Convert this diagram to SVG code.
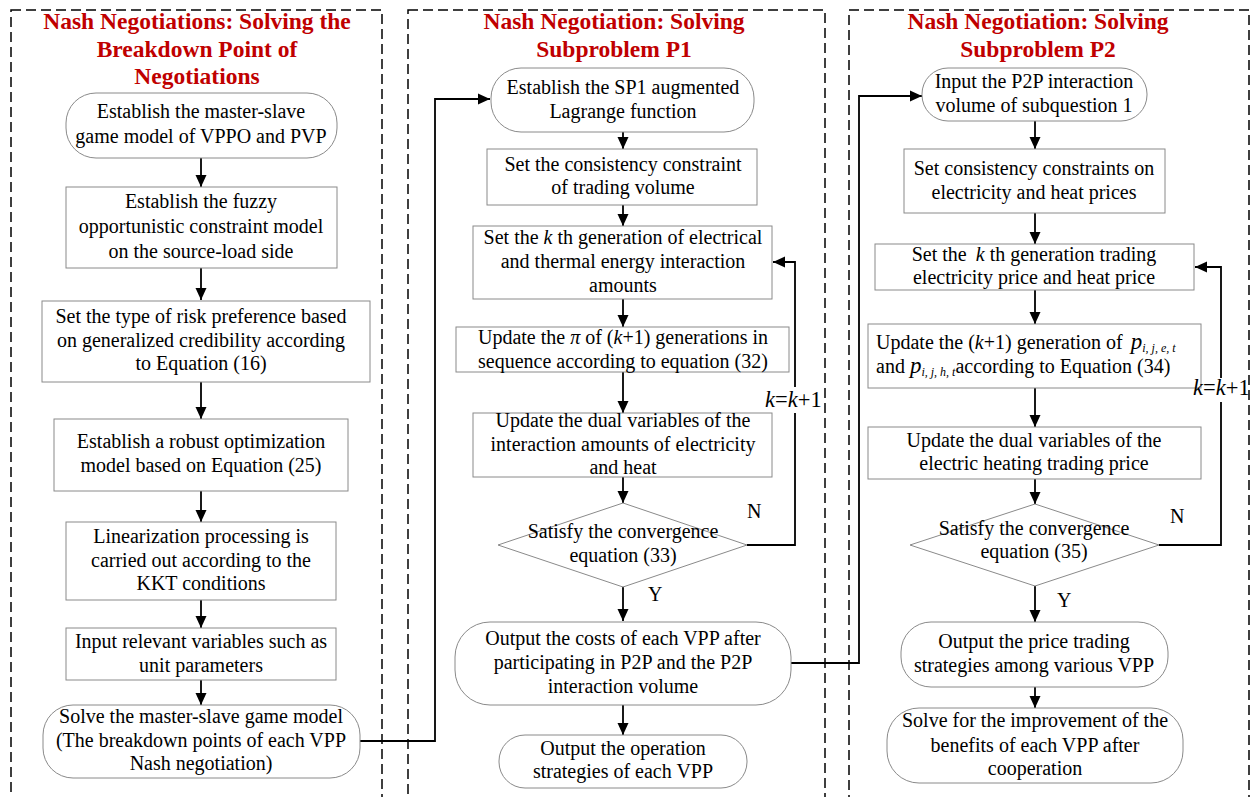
<svg xmlns="http://www.w3.org/2000/svg" width="1253" height="797" viewBox="0 0 1253 797">
<style>
.bg{fill:#fff}
.panel{fill:none;stroke:#000;stroke-width:1.5;stroke-dasharray:10 5}
.title{font-family:"Liberation Serif","Times New Roman",serif;font-weight:bold;font-size:23.5px;fill:#C00000;text-anchor:middle}
.box{fill:#fff;stroke:#8a8a8a;stroke-width:1}
.t{font-family:"Liberation Serif","Times New Roman",serif;font-size:20px;fill:#000;text-anchor:middle}
.ts{font-family:"Liberation Serif","Times New Roman",serif;font-size:20px;fill:#000}
.lbl{font-family:"Liberation Serif","Times New Roman",serif;font-size:20px;fill:#000}
.kk{font-family:"Liberation Serif","Times New Roman",serif;font-size:22.5px;fill:#000}
.c{fill:none;stroke:#000;stroke-width:1.8}
.i{font-style:italic}
</style>
<defs>
<marker id="ah" markerUnits="userSpaceOnUse" markerWidth="12" markerHeight="12" viewBox="0 0 12 12" refX="12" refY="6" orient="auto">
<path d="M0,0.5 L12,6 L0,11.5 Z" fill="#000"/>
</marker>
</defs>
<rect class="bg" x="0" y="0" width="1253" height="797"/>

<g id="panels">
<rect class="panel" x="11" y="10" width="371" height="800"/>
<rect class="panel" x="408" y="10" width="417" height="800"/>
<rect class="panel" x="849" y="10" width="400" height="800"/>
<text class="title" x="197" y="29">Nash Negotiations: Solving the</text>
<text class="title" x="197" y="57">Breakdown Point of</text>
<text class="title" x="197" y="84">Negotiations</text>
<text class="title" x="614" y="29">Nash Negotiation: Solving</text>
<text class="title" x="614" y="57">Subproblem P1</text>
<text class="title" x="1038" y="29">Nash Negotiation: Solving</text>
<text class="title" x="1038" y="57">Subproblem P2</text>
</g>

<g id="connectors">
<path class="c" d="M201,158 V187" marker-end="url(#ah)"/>
<path class="c" d="M201,268 V300" marker-end="url(#ah)"/>
<path class="c" d="M201,382 V419" marker-end="url(#ah)"/>
<path class="c" d="M201,491 V522" marker-end="url(#ah)"/>
<path class="c" d="M201,600 V628" marker-end="url(#ah)"/>
<path class="c" d="M201,680 V705" marker-end="url(#ah)"/>
<path class="c" d="M360,741 H435 V99 H490" marker-end="url(#ah)"/>
<path class="c" d="M623,132 V149" marker-end="url(#ah)"/>
<path class="c" d="M623,205 V226" marker-end="url(#ah)"/>
<path class="c" d="M623,299 V327" marker-end="url(#ah)"/>
<path class="c" d="M623,372 V413" marker-end="url(#ah)"/>
<path class="c" d="M623,477 V503" marker-end="url(#ah)"/>
<path class="c" d="M623,586 V621" marker-end="url(#ah)"/>
<path class="c" d="M623,705 V735" marker-end="url(#ah)"/>
<path class="c" d="M747,545 H795 V413"/>
<path class="c" d="M795,387 V262 H773" marker-end="url(#ah)"/>
<path class="c" d="M791,663 H859 V96 H922" marker-end="url(#ah)"/>
<path class="c" d="M1035,121 V149" marker-end="url(#ah)"/>
<path class="c" d="M1035,213 V244" marker-end="url(#ah)"/>
<path class="c" d="M1035,290 V324" marker-end="url(#ah)"/>
<path class="c" d="M1035,388 V427" marker-end="url(#ah)"/>
<path class="c" d="M1035,479 V504" marker-end="url(#ah)"/>
<path class="c" d="M1035,586 V622" marker-end="url(#ah)"/>
<path class="c" d="M1035,687 V708" marker-end="url(#ah)"/>
<path class="c" d="M1159,545 H1221 V402"/>
<path class="c" d="M1221,378 V267 H1195" marker-end="url(#ah)"/>
</g>

<g id="n1-1">
<rect class="box" x="66" y="93" width="271" height="65" rx="30" ry="30"/>
<text class="t" x="201" y="118">Establish the master-slave</text>
<text class="t" x="201" y="143">game model of VPPO and PVP</text>
</g>
<g id="n1-2">
<rect class="box" x="66" y="187" width="271" height="81"/>
<text class="t" x="201" y="208">Establish the fuzzy</text>
<text class="t" x="201" y="233">opportunistic constraint model</text>
<text class="t" x="201" y="258">on the source-load side</text>
</g>
<g id="n1-3">
<rect class="box" x="42" y="301" width="328" height="81"/>
<text class="t" x="201" y="323">Set the type of risk preference based</text>
<text class="t" x="201" y="347">on generalized credibility according</text>
<text class="t" x="201" y="370">to Equation (16)</text>
</g>
<g id="n1-4">
<rect class="box" x="54" y="419" width="294" height="72"/>
<text class="t" x="201" y="448">Establish a robust optimization</text>
<text class="t" x="201" y="472">model based on Equation (25)</text>
</g>
<g id="n1-5">
<rect class="box" x="66" y="522" width="270" height="78"/>
<text class="t" x="201" y="543">Linearization processing is</text>
<text class="t" x="201" y="567">carried out according to the</text>
<text class="t" x="201" y="590">KKT conditions</text>
</g>
<g id="n1-6">
<rect class="box" x="66" y="628" width="270" height="52"/>
<text class="t" x="201" y="648">Input relevant variables such as</text>
<text class="t" x="201" y="672">unit parameters</text>
</g>
<g id="n1-7">
<rect class="box" x="43" y="705" width="317" height="73" rx="30" ry="30"/>
<text class="t" x="201" y="723">Solve the master-slave game model</text>
<text class="t" x="201" y="747">(The breakdown points of each VPP</text>
<text class="t" x="201" y="770">Nash negotiation)</text>
</g>

<g id="n2-1">
<rect class="box" x="491" y="68" width="263" height="64" rx="30" ry="30"/>
<text class="t" x="623" y="94">Establish the SP1 augmented</text>
<text class="t" x="623" y="118">Lagrange function</text>
</g>
<g id="n2-2">
<rect class="box" x="487" y="149" width="270" height="56"/>
<text class="t" x="623" y="171">Set the consistency constraint</text>
<text class="t" x="623" y="194">of trading volume</text>
</g>
<g id="n2-3">
<rect class="box" x="473" y="226" width="299" height="73"/>
<text class="t" x="623" y="244">Set the <tspan class="i">k</tspan> th generation of electrical</text>
<text class="t" x="623" y="268">and thermal energy interaction</text>
<text class="t" x="623" y="292">amounts</text>
</g>
<g id="n2-4">
<rect class="box" x="456" y="327" width="333" height="45"/>
<text class="t" x="623" y="344">Update the <tspan class="i">π</tspan> of (<tspan class="i">k</tspan>+1) generations in</text>
<text class="t" x="623" y="368">sequence according to equation (32)</text>
</g>
<g id="n2-5">
<rect class="box" x="473" y="413" width="299" height="64"/>
<text class="t" x="623" y="427">Update the dual variables of the</text>
<text class="t" x="623" y="451">interaction amounts of electricity</text>
<text class="t" x="623" y="474">and heat</text>
</g>
<g id="n2-6">
<polygon class="box" points="498,545 623,503 747,545 623,587"/>
<text class="t" x="623" y="538">Satisfy the convergence</text>
<text class="t" x="623" y="562">equation (33)</text>
</g>
<g id="n2-7">
<rect class="box" x="455" y="622" width="336" height="83" rx="35" ry="35"/>
<text class="t" x="623" y="645">Output the costs of each VPP after</text>
<text class="t" x="623" y="669">participating in P2P and the P2P</text>
<text class="t" x="623" y="693">interaction volume</text>
</g>
<g id="n2-8">
<rect class="box" x="499" y="735" width="248" height="53" rx="26" ry="26"/>
<text class="t" x="623" y="755">Output the operation</text>
<text class="t" x="623" y="778">strategies of each VPP</text>
</g>

<g id="n3-1">
<rect class="box" x="922" y="68" width="225" height="53" rx="26" ry="26"/>
<text class="t" x="1034" y="88">Input the P2P interaction</text>
<text class="t" x="1034" y="112">volume of subquestion 1</text>
</g>
<g id="n3-2">
<rect class="box" x="904" y="149" width="261" height="64"/>
<text class="t" x="1034" y="175">Set consistency constraints on</text>
<text class="t" x="1034" y="199">electricity and heat prices</text>
</g>
<g id="n3-3">
<rect class="box" x="875" y="244" width="319" height="46"/>
<text class="t" x="1034" y="261">Set the <tspan class="i" dx="4">k</tspan> th generation trading</text>
<text class="t" x="1034" y="284">electricity price and heat price</text>
</g>
<g id="n3-4">
<rect class="box" x="868" y="324" width="333" height="64"/>
<text class="ts" x="876" y="349">Update the (<tspan class="i">k</tspan>+1) generation of <tspan class="i" font-size="23" dx="3">p</tspan><tspan class="i" font-size="12" dy="3">i, j, e, t</tspan></text>
<text class="ts" x="876" y="373">and <tspan class="i" font-size="23">p</tspan><tspan class="i" font-size="12" dy="3">i, j, h, t</tspan><tspan dy="-3">according to Equation (34)</tspan></text>
</g>
<g id="n3-5">
<rect class="box" x="868" y="427" width="333" height="52"/>
<text class="t" x="1034" y="447">Update the dual variables of the</text>
<text class="t" x="1034" y="470">electric heating trading price</text>
</g>
<g id="n3-6">
<polygon class="box" points="910,545 1035,504 1159,545 1035,586"/>
<text class="t" x="1034" y="535">Satisfy the convergence</text>
<text class="t" x="1034" y="558">equation (35)</text>
</g>
<g id="n3-7">
<rect class="box" x="901" y="622" width="267" height="65" rx="30" ry="30"/>
<text class="t" x="1034" y="648">Output the price trading</text>
<text class="t" x="1034" y="672">strategies among various VPP</text>
</g>
<g id="n3-8">
<rect class="box" x="887" y="708" width="296" height="75" rx="32" ry="32"/>
<text class="t" x="1035" y="727">Solve for the improvement of the</text>
<text class="t" x="1035" y="752">benefits of each VPP after</text>
<text class="t" x="1035" y="775">cooperation</text>
</g>

<g id="connector-labels">
<text class="kk" x="765" y="407"><tspan class="i">k</tspan>=<tspan class="i">k</tspan>+1</text>
<text class="lbl" x="747" y="518">N</text>
<text class="lbl" x="648" y="601">Y</text>
<text class="kk" x="1193" y="395"><tspan class="i">k</tspan>=<tspan class="i">k</tspan>+1</text>
<text class="lbl" x="1170" y="523">N</text>
<text class="lbl" x="1057" y="607">Y</text>
</g>
</svg>
